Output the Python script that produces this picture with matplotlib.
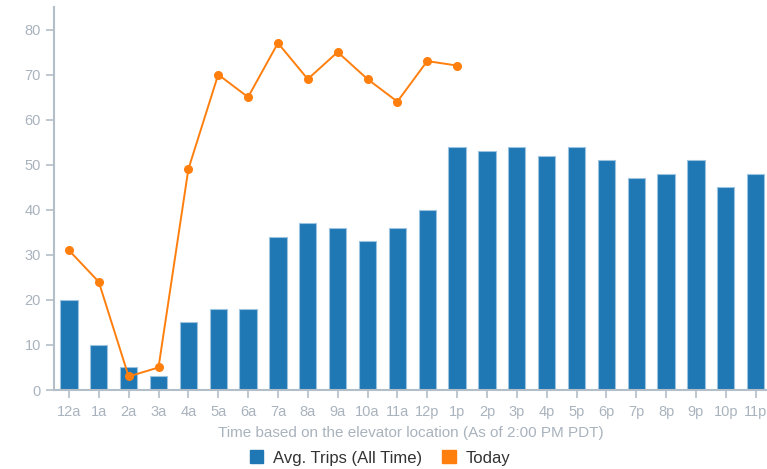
import numpy as np
import matplotlib.pyplot as plt
from matplotlib.patches import Patch

plt.rcParams["font.family"] = ["Liberation Sans", "DejaVu Sans"]

hours = ["12a", "1a", "2a", "3a", "4a", "5a", "6a", "7a", "8a", "9a", "10a", "11a",
         "12p", "1p", "2p", "3p", "4p", "5p", "6p", "7p", "8p", "9p", "10p", "11p"]
avg_trips = [20, 10, 5, 3, 15, 18, 18, 34, 37, 36, 33, 36,
             40, 54, 53, 54, 52, 54, 51, 47, 48, 51, 45, 48]
today = [31, 24, 3, 5, 49, 70, 65, 77, 69, 75, 69, 64, 73, 72]

blue = "#1f77b4"
orange = "#ff7f0e"
grey = "#b4bec8"
text_grey = "#a9b3bd"

fig = plt.figure(figsize=(7.67, 4.69), dpi=100)
ax = fig.add_axes([54/767, 79/469, 1 - 54/767, 383/469])

x = np.arange(len(hours))
ax.bar(x, avg_trips, width=0.58, color=blue, edgecolor="#9cc3e0", linewidth=0.8)
ax.plot(np.arange(len(today)), today, "-o", color=orange, lw=1.4, ms=5.5)

ax.set_xlim(-0.5, 23.38)
ax.set_ylim(0, 85)
ax.set_yticks(range(0, 81, 10))
ax.set_xticks(x)
ax.set_xticklabels(hours)

for s in ["top", "right"]:
    ax.spines[s].set_visible(False)
for s in ["left", "bottom"]:
    ax.spines[s].set_color(grey)
    ax.spines[s].set_linewidth(1.5)
ax.tick_params(colors=grey, labelcolor=text_grey, labelsize=10.5, length=6, width=1.2)
ax.tick_params(axis="x", pad=5)

ax.set_xlabel("Time based on the elevator location (As of 2:00 PM PDT)",
              color=text_grey, fontsize=11, labelpad=5)

handles = [Patch(color=blue), Patch(color=orange)]
fig.legend(handles, ["Avg. Trips (All Time)", "Today"], loc="center",
           bbox_to_anchor=(380/767, 11/469), ncol=2, frameon=False,
           fontsize=12, handlelength=0.8, handleheight=0.8, columnspacing=1.2,
           handletextpad=0.6, labelcolor="#333333")

fig.savefig("out.png", dpi=100)
